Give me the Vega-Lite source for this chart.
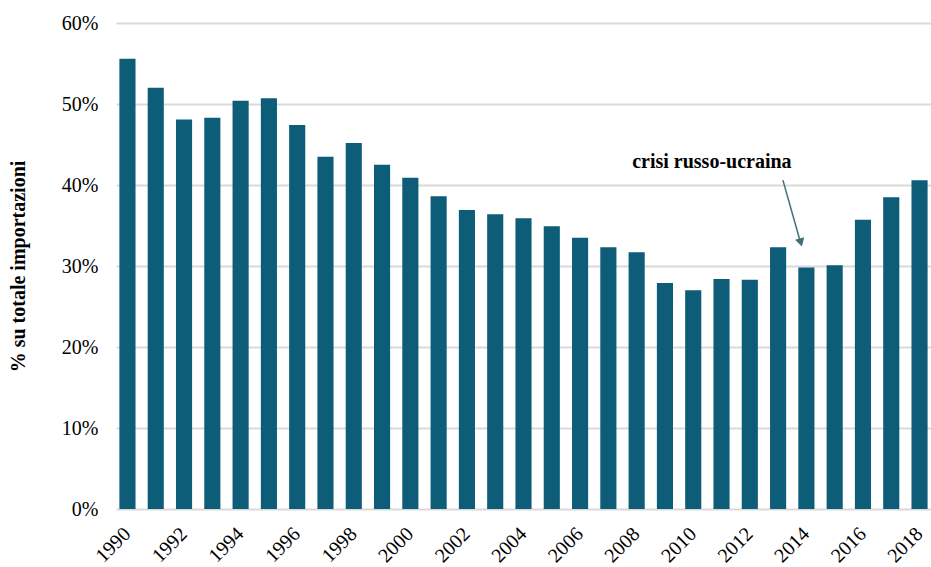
{
  "$schema": "https://vega.github.io/schema/vega-lite/v6.json",
  "autosize": {"type": "none"},
  "width": 815,
  "height": 486,
  "padding": {"left": 116, "top": 23, "right": 0, "bottom": 58},
  "background": "white",
  "config": {
    "view": {"stroke": null},
    "font": "Liberation Serif"
  },
  "datasets": {
    "bars": [
      {"year": "1990", "share": 55.6},
      {"year": "1991", "share": 52.0},
      {"year": "1992", "share": 48.1},
      {"year": "1993", "share": 48.3},
      {"year": "1994", "share": 50.4},
      {"year": "1995", "share": 50.7},
      {"year": "1996", "share": 47.4},
      {"year": "1997", "share": 43.5},
      {"year": "1998", "share": 45.2},
      {"year": "1999", "share": 42.5},
      {"year": "2000", "share": 40.9},
      {"year": "2001", "share": 38.6},
      {"year": "2002", "share": 36.9},
      {"year": "2003", "share": 36.4},
      {"year": "2004", "share": 35.9},
      {"year": "2005", "share": 34.9},
      {"year": "2006", "share": 33.5},
      {"year": "2007", "share": 32.3},
      {"year": "2008", "share": 31.7},
      {"year": "2009", "share": 27.9},
      {"year": "2010", "share": 27.0},
      {"year": "2011", "share": 28.4},
      {"year": "2012", "share": 28.3},
      {"year": "2013", "share": 32.3},
      {"year": "2014", "share": 29.8},
      {"year": "2015", "share": 30.1},
      {"year": "2016", "share": 35.7},
      {"year": "2017", "share": 38.5},
      {"year": "2018", "share": 40.6}
    ],
    "arrow": [
      {"x": 2013.17, "y": 40.6, "x2": 2013.76, "y2": 33.3}
    ],
    "head": [
      {"x": 2013.8, "y": 32.9}
    ],
    "label": [
      {"x": 2010.66, "y": 42.8, "text": "crisi russo-ucraina"}
    ]
  },
  "layer": [
    {
      "data": {"name": "bars"},
      "encoding": {
        "x": {
          "field": "year",
          "type": "ordinal",
          "scale": {"paddingInner": 0.43, "paddingOuter": 0.12},
          "axis": {
            "title": null,
            "labels": false,
            "ticks": false,
            "domain": false,
            "grid": false
          }
        }
      },
      "layer": [
        {
          "mark": {"type": "bar", "color": "#0d5d79"},
          "encoding": {
            "y": {
              "field": "share",
              "type": "quantitative",
              "scale": {"domain": [0, 60], "nice": false},
              "axis": {
                "title": "% su totale importazioni",
                "titleFont": "Liberation Serif",
                "titleFontSize": 20,
                "titleFontWeight": "bold",
                "titleColor": "#000000",
                "titleX": -98,
                "titleY": 243,
                "titleAngle": 270,
                "titleAlign": "center",
                "titleBaseline": "middle",
                "values": [0, 10, 20, 30, 40, 50, 60],
                "labelExpr": "datum.value + '%'",
                "labelFontSize": 20,
                "labelFont": "Liberation Serif",
                "labelColor": "#000000",
                "labelPadding": 18,
                "ticks": false,
                "domain": false,
                "grid": true,
                "gridColor": "#d9d9d9",
                "gridWidth": 2
              }
            }
          }
        },
        {
          "transform": [{"filter": "toNumber(datum.year) % 2 == 0"}],
          "mark": {"type": "text", "font": "Liberation Serif", "fontSize": 20, "color": "#000000", "angle": 315, "align": "right", "baseline": "middle", "yOffset": 22},
          "encoding": {
            "y": {"datum": 0, "type": "quantitative"},
            "text": {"field": "year"}
          }
        }
      ]
    },
    {
      "encoding": {
        "x": {"field": "x", "type": "quantitative", "scale": {"domain": [1989.595, 2018.405], "nice": false, "zero": false}, "axis": null},
        "y": {"field": "y", "type": "quantitative"}
      },
      "layer": [
        {
          "data": {"name": "arrow"},
          "mark": {"type": "rule", "color": "#3f7079", "strokeWidth": 1.5},
          "encoding": {
            "x2": {"field": "x2"},
            "y2": {"field": "y2"}
          }
        },
        {
          "data": {"name": "head"},
          "mark": {"type": "point", "shape": "triangle-down", "filled": true, "color": "#3f7079", "size": 90, "angle": 344, "opacity": 1},
          "encoding": {}
        },
        {
          "data": {"name": "label"},
          "mark": {"type": "text", "font": "Liberation Serif", "fontSize": 20, "fontWeight": "bold", "color": "#000000", "align": "center", "baseline": "middle"},
          "encoding": {
            "text": {"field": "text"}
          }
        }
      ]
    }
  ],
  "resolve": {"scale": {"x": "independent"}, "axis": {"x": "independent"}}
}
